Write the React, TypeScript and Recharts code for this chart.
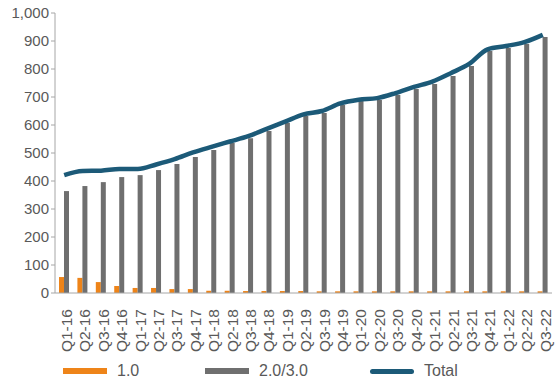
import { ComposedChart, Bar, Line, XAxis, YAxis, Legend } from 'recharts';

const QUARTERS = [
  'Q1-16', 'Q2-16', 'Q3-16', 'Q4-16', 'Q1-17', 'Q2-17', 'Q3-17', 'Q4-17',
  'Q1-18', 'Q2-18', 'Q3-18', 'Q4-18', 'Q1-19', 'Q2-19', 'Q3-19', 'Q4-19',
  'Q1-20', 'Q2-20', 'Q3-20', 'Q4-20', 'Q1-21', 'Q2-21', 'Q3-21', 'Q4-21',
  'Q1-22', 'Q2-22', 'Q3-22',
];

const V1 = [57, 54, 39, 25, 18, 18, 14, 14, 8, 8, 7, 7, 7, 7, 6, 6, 6, 6, 6, 6, 6, 6, 6, 6, 6, 6, 6];

const V23 = [
  364, 382, 396, 414, 421, 439, 461, 486, 511, 536, 553, 579, 607, 632, 643, 671,
  686, 689, 707, 729, 746, 775, 811, 864, 875, 889, 914,
];

const TOTAL = [
  421, 436, 437, 443, 443, 459, 478, 502, 522, 541, 560, 586, 612, 638, 650, 677,
  690, 696, 714, 736, 755, 785, 818, 870, 882, 896, 922,
];

const Y_TICKS = [0, 100, 200, 300, 400, 500, 600, 700, 800, 900, 1000];

const ORANGE = '#ee8419';
const GRAY = '#6f6f6f';
const BLUE = '#1c5a78';
const TEXT = '#595959';
const FONT = '"Liberation Sans", Arial, sans-serif';

const data = QUARTERS.map((q, i) => ({ name: q, v1: V1[i], v23: V23[i], total: TOTAL[i] }));

const QuarterTick = ({ x, y, payload }: any) => (
  <text
    x={x}
    y={y + 8}
    transform={`rotate(-90, ${x}, ${y + 8})`}
    textAnchor="end"
    dy="0.5em"
    fill={TEXT}
    fontSize={15.5}
    fontFamily={FONT}
  >
    {payload.value}
  </text>
);

const legendItems = [
  { label: '1.0', color: ORANGE, h: 6, w: 142 },
  { label: '2.0/3.0', color: GRAY, h: 6, w: 165 },
  { label: 'Total', color: BLUE, h: 5, w: 100 },
];

const ChartLegend = () => (
  <div
    style={{ display: 'flex', paddingLeft: 63, paddingTop: 3, fontFamily: FONT, fontSize: 16, color: TEXT }}
  >
    {legendItems.map((it) => (
      <div key={it.label} style={{ display: 'flex', alignItems: 'center', width: it.w }}>
        <span
          style={{
            display: 'inline-block',
            width: 44,
            height: it.h,
            background: it.color,
            borderRadius: it.label === 'Total' ? 3 : 0,
            marginRight: 10,
          }}
        />
        <span>{it.label}</span>
      </div>
    ))}
  </div>
);

export default function App() {
  return (
    <div style={{ position: 'fixed', left: 0, top: 0, background: '#fff' }}>
      <ComposedChart
        width={560}
        height={381}
        data={data}
        margin={{ top: 13, right: 8, bottom: 0, left: 0 }}
        barGap={0}
        barSize={5}
      >
        <XAxis
          dataKey="name"
          interval={0}
          tick={<QuarterTick />}
          tickLine={false}
          axisLine={{ stroke: '#a6a6a6' }}
          height={66}
        />
        <YAxis
          domain={[0, 1000]}
          ticks={Y_TICKS}
          interval={0}
          width={55}
          tickSize={4}
          tickLine={{ stroke: '#a6a6a6' }}
          axisLine={{ stroke: '#a6a6a6' }}
          tickFormatter={(v: number) => v.toLocaleString('en-US')}
          tick={{ fill: TEXT, fontSize: 15, fontFamily: FONT }}
        />
        <Legend verticalAlign="bottom" height={22} content={<ChartLegend />} />
        <Bar dataKey="v1" name="1.0" fill={ORANGE} isAnimationActive={false} />
        <Bar dataKey="v23" name="2.0/3.0" fill={GRAY} isAnimationActive={false} />
        <Line
          dataKey="total"
          name="Total"
          type="monotone"
          stroke={BLUE}
          strokeWidth={4.5}
          dot={false}
          isAnimationActive={false}
        />
      </ComposedChart>
    </div>
  );
}
